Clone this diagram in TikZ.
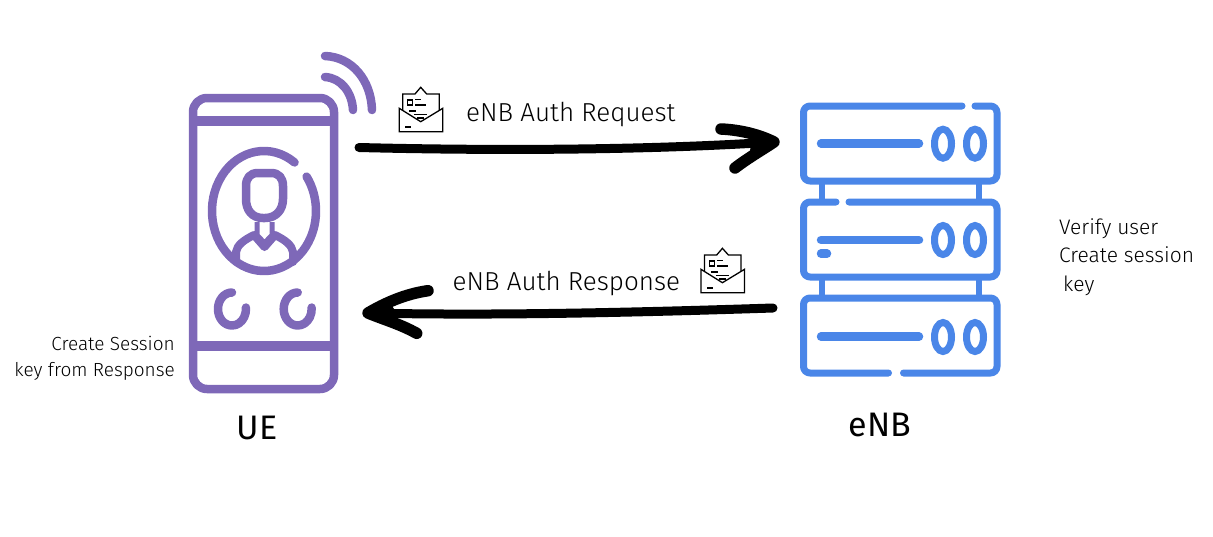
\documentclass[tikz,border=0pt]{standalone}
\usepackage{fontspec}
\setmainfont{Fira Sans Light}
\newfontfamily\regfont{Fira Sans}
\definecolor{uep}{HTML}{7E68B8}
\definecolor{enb}{HTML}{4A86E8}
\tikzset{
  pl/.style={draw=uep,line width=8.5pt,line cap=round,line join=round},
  bl/.style={draw=enb,line width=7pt,line cap=round,line join=round,rounded corners=6.5pt},
  bln/.style={draw=enb,line cap=round,line width=8.5pt},
  flow/.style={draw=black,line width=9pt,line cap=round,line join=round},
  headarm/.style={draw=black,line width=11.5pt,line cap=round,line join=round},
  lab/.style={font=\fontsize{26}{28}\selectfont,inner sep=0pt,anchor=base west},
  noteL/.style={font=\fontsize{19}{26}\selectfont,inner sep=0pt},
  noteR/.style={font=\fontsize{21}{26}\selectfont,inner sep=0pt},
  big/.style={font=\regfont\fontsize{34}{36}\selectfont,inner sep=0pt},
  ev/.style={draw=black,line width=1.3pt,line join=miter},
  evb/.style={draw=black,line width=2pt},
  pics/envelope/.style={code={
    \draw[ev] (3.5,23) -- (3.5,7) -- (15.7,7) -- (21.4,0.3) -- (27.4,7) -- (40,7) -- (40,23);
    \draw[ev] (0,21.3) -- (21.4,34.7) -- (43.5,21.3) -- (43.5,44.7) -- (0,44.7) -- cycle;
    \draw[ev] (8.5,13) rectangle (13.5,18);
    \draw[ev] (16,12.5) -- (22,12.5);
    \draw[ev] (16,18) -- (27,18);
    \draw[evb] (10,24) -- (17,24);
    \draw[ev] (15,27.5) -- (28,27.5);
    \draw[evb] (18,31) -- (25,31);
    \draw[evb] (6,40) -- (12,40);
  }}
}
\begin{document}
\begin{tikzpicture}[x=1pt,y=-1pt]
\useasboundingbox (0,0) rectangle (1213,536);
% UE phone
\node[inner sep=0pt,minimum width=150pt,minimum height=300pt] (ue) at (263.5,243.5) {};
\draw[pl,rounded corners=14pt] (193,98) rectangle (334,389);
\draw[pl,line cap=butt,line width=10pt] (193,121) -- (334,121);
\draw[pl,line cap=butt,line width=10pt] (193,345.7) -- (334,345.7);
% wifi
\draw[pl] (325,56) .. controls (352,57) and (371,80) .. (372,110);
\draw[pl] (325,77) .. controls (341,78) and (352,92) .. (353,110);
% avatar ring
\draw[pl] (294.56,162.46) arc[start angle=-54,end angle=-395,x radius=52,y radius=60];
% head
\draw[pl] (258,173) -- (271,173) .. controls (279,173) and (283,178) .. (283,186) -- (283,199) .. controls (283,210) and (276,218) .. (265,218) -- (263,218) .. controls (252,218) and (246,210) .. (246,199) -- (246,186) .. controls (246,178) and (250,173) .. (258,173) -- cycle;
% shoulders and collar
\draw[draw=uep,line width=8pt,line cap=round,line join=round] (236,262) -- (236,252) .. controls (237,245) and (244,240) .. (254,235) -- (264.5,247) -- (275,235) .. controls (285,240) and (292,245) .. (293,252) -- (293,262);
\draw[draw=uep,line width=5pt,line join=round] (257,222) -- (257,235) -- (264.5,243) -- (272,235) -- (272,222);
% round buttons
\draw[pl] (232,292.5) arc[start angle=-90,end angle=-365,x radius=14,y radius=16.5];
\draw[pl] (297.7,292.5) arc[start angle=-90,end angle=-365,x radius=14,y radius=16.5];
% eNB server
\node[inner sep=0pt,minimum width=201pt,minimum height=275pt] (server) at (900,239.5) {};
\draw[bl] (962,106) -- (803.5,106) -- (803.5,181) -- (997,181) -- (997,106) -- (975,106);
\draw[bl] (836,202) -- (803.5,202) -- (803.5,277) -- (997,277) -- (997,202) -- (849,202);
\draw[bl] (888.5,373) -- (803.5,373) -- (803.5,298) -- (997,298) -- (997,373) -- (903.5,373);
\draw[draw=enb,line width=6pt] (822,181) -- (822,202) (979,181) -- (979,202) (822,277) -- (822,298) (979,277) -- (979,298);
\draw[bln] (821,143.5) -- (919,143.5);
\draw[bln] (821,240) -- (919,240);
\draw[bln] (821,253.7) -- (827,253.7);
\draw[bln] (821,336.7) -- (919,336.7);
\foreach \yy in {143.7,240,337}{
  \draw[draw=enb,line width=7pt] (943,\yy) ellipse[x radius=8.5,y radius=14.5];
  \draw[draw=enb,line width=7pt] (975,\yy) ellipse[x radius=8.5,y radius=14.5];
}
% flows
\coordinate (reqA) at (359,147.5);
\coordinate (reqB) at (774,142);
\coordinate (resA) at (773,308);
\coordinate (resB) at (368,313);
\draw[flow] (reqA) .. controls (500,151) and (650,150) .. (reqB);
\draw[headarm] (721,129) .. controls (742,130) and (760,135) .. (reqB) .. controls (762,150) and (748,158) .. (735,168);
\fill[black] (752,137) -- (reqB) -- (750,151) -- cycle;
\draw[flow] (resA) .. controls (650,312) and (500,316) .. (resB);
\draw[headarm] (428,290.7) .. controls (405,294) and (385,303) .. (resB) .. controls (385,320) and (400,324) .. (416.7,333.3);
\fill[black] (392,306) -- (resB) -- (400,318) -- cycle;
% envelopes
\pic at (399.3,87) {envelope};
\pic at (701,248) {envelope};
% labels
\node[lab] (t1) at (466,121) {eNB Auth Request};
\node[lab] (t2) at (452.5,290) {eNB Auth Response};
\node[noteL,anchor=base east] (t3) at (175,350) {Create Session};
\node[noteL,anchor=base east] (t4) at (175,376) {key from Response};
\node[noteR,anchor=base west] (t5) at (1059,234) {Verify user};
\node[noteR,anchor=base west] (t6) at (1059,262) {Create session};
\node[noteR,anchor=base west] (t7) at (1063,291) {key};
\node[big,anchor=base] (t8) at (257,439) {UE};
\node[big,anchor=base] (t9) at (880,436) {eNB};
\end{tikzpicture}
\end{document}
